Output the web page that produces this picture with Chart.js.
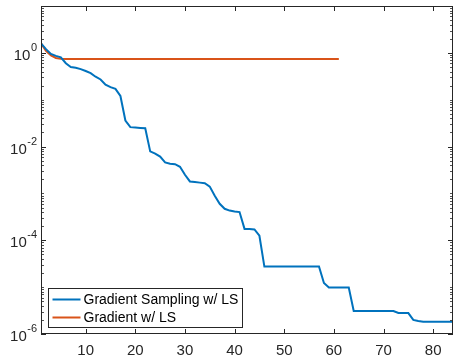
<!DOCTYPE html>
<html>
<head>
<meta charset="utf-8">
<script src="https://cdn.jsdelivr.net/npm/chart.js@4.4.1/dist/chart.umd.min.js"></script>
<style>
  html, body { margin: 0; padding: 0; background: #fff; }
  #wrap { width: 454px; height: 356px; }
</style>
</head>
<body>
<div id="wrap"><canvas id="chart"></canvas></div>
<script>
// data
const iterSampling = [];
for (let i = 1; i <= 84; i++) iterSampling.push(i);
const gradSampling = [
  1.6, 1.2, 0.95, 0.86, 0.8, 0.6, 0.5, 0.48, 0.45, 0.41,
  0.37, 0.31, 0.27, 0.21, 0.185, 0.17, 0.12, 0.036, 0.026, 0.0255,
  0.025, 0.0246, 0.0079, 0.0071, 0.0061, 0.0046, 0.0043, 0.0042, 0.0037, 0.0025,
  0.0018, 0.00175, 0.0017, 0.00165, 0.0014, 0.00089, 0.0006, 0.00047, 0.00043, 0.00041,
  0.0004, 0.000175, 0.000175, 0.00017, 0.000125, 2.75e-5, 2.75e-5, 2.75e-5, 2.75e-5, 2.75e-5,
  2.75e-5, 2.75e-5, 2.75e-5, 2.75e-5, 2.75e-5, 2.75e-5, 2.75e-5, 1.23e-5, 9.8e-6, 9.8e-6,
  9.8e-6, 9.8e-6, 9.8e-6, 3.1e-6, 3.1e-6, 3.1e-6, 3.1e-6, 3.1e-6, 3.1e-6, 3.1e-6,
  3.1e-6, 3.1e-6, 2.8e-6, 2.8e-6, 2.8e-6, 2.0e-6, 1.9e-6, 1.82e-6, 1.82e-6, 1.82e-6,
  1.82e-6, 1.82e-6, 1.82e-6, 1.82e-6
];
const iterGradient = [];
for (let i = 1; i <= 61; i++) iterGradient.push(i);
const gradPlain = [1.6, 1.1, 0.88, 0.78, 0.75];
while (gradPlain.length < 61) gradPlain.push(0.74);

const xTicks = [10, 20, 30, 40, 50, 60, 70, 80];
const yTickExps = [0, -2, -4, -6];
const seriesLabels = ['Gradient Sampling w/ LS', 'Gradient w/ LS'];
const seriesColors = ['#0072BD', '#D95319'];

const AX = '#262626';
const FONT = '"Liberation Sans", Arial, Helvetica, sans-serif';

// matlab style box, inward ticks, superscript labels, legend in lower left
const matlabAxes = {
  id: 'matlabAxes',
  afterDraw(chart) {
    const ctx = chart.ctx;
    const a = chart.chartArea;
    const xs = chart.scales.x, ys = chart.scales.y;
    ctx.save();
    ctx.strokeStyle = AX;
    ctx.lineWidth = 1;
    ctx.strokeRect(Math.round(a.left) + 0.5, Math.round(a.top) + 0.5,
      Math.round(a.right - a.left) - 1, Math.round(a.bottom - a.top) - 1);

    // x ticks
    ctx.beginPath();
    xTicks.forEach(t => {
      const px = Math.round(xs.getPixelForValue(t)) + 0.5;
      ctx.moveTo(px, a.bottom); ctx.lineTo(px, a.bottom - 5);
      ctx.moveTo(px, a.top); ctx.lineTo(px, a.top + 5);
    });
    // y major ticks
    yTickExps.forEach(e => {
      const py = Math.round(ys.getPixelForValue(Math.pow(10, e))) + 0.5;
      ctx.moveTo(a.left, py); ctx.lineTo(a.left + 5, py);
      ctx.moveTo(a.right, py); ctx.lineTo(a.right - 5, py);
    });
    ctx.stroke();
    // y minor ticks
    ctx.beginPath();
    ctx.lineWidth = 0.8;
    for (let e = -6; e < 1; e++) {
      for (let m = 1; m <= 9; m++) {
        if (m === 1 && e % 2 === 0) continue;
        const py = Math.round(ys.getPixelForValue(m * Math.pow(10, e))) + 0.5;
        ctx.moveTo(a.left, py); ctx.lineTo(a.left + 3, py);
        ctx.moveTo(a.right, py); ctx.lineTo(a.right - 3, py);
      }
    }
    ctx.stroke();

    // x labels
    ctx.fillStyle = AX;
    ctx.font = '15px ' + FONT;
    ctx.textAlign = 'center';
    ctx.textBaseline = 'top';
    xTicks.forEach(t => ctx.fillText(String(t), xs.getPixelForValue(t), a.bottom + 9));

    // y labels 10^e
    ctx.textBaseline = 'middle';
    yTickExps.forEach(e => {
      const py = ys.getPixelForValue(Math.pow(10, e));
      const exp = String(e).replace('-', '\u2212').replace('\u2212', '-');
      ctx.font = '11px ' + FONT;
      const ew = ctx.measureText(exp).width;
      const right = a.left - 4;
      ctx.textAlign = 'right';
      ctx.fillText(exp, right, py - 5);
      ctx.font = '15px ' + FONT;
      ctx.fillText('10', right - ew - 0.5, py + 3);
    });

    // legend
    const lx = 48.5, ly = 288.5, lw = 194, lh = 39;
    ctx.fillStyle = '#fff';
    ctx.fillRect(lx, ly, lw, lh);
    ctx.lineWidth = 1;
    ctx.strokeStyle = AX;
    ctx.strokeRect(lx, ly, lw, lh);
    ctx.font = '14px ' + FONT;
    ctx.textAlign = 'left';
    ctx.textBaseline = 'middle';
    chart.data.datasets.forEach((ds, i) => {
      const yy = ly + 11 + i * 18;
      ctx.strokeStyle = ds.borderColor;
      ctx.lineWidth = 2;
      ctx.beginPath();
      ctx.moveTo(lx + 4, yy); ctx.lineTo(lx + 32, yy);
      ctx.stroke();
      ctx.fillStyle = '#000';
      ctx.fillText(ds.label, lx + 35, yy + 1);
    });
    ctx.restore();
  }
};

const ctx = document.getElementById('chart').getContext('2d');
new Chart(ctx, {
  type: 'line',
  data: {
    datasets: [
      {
        label: seriesLabels[0],
        data: iterSampling.map((x, i) => ({ x: x, y: gradSampling[i] })),
        borderColor: seriesColors[0],
        borderWidth: 2,
        pointRadius: 0,
        tension: 0
      },
      {
        label: seriesLabels[1],
        data: iterGradient.map((x, i) => ({ x: x, y: gradPlain[i] })),
        borderColor: seriesColors[1],
        borderWidth: 2,
        pointRadius: 0,
        tension: 0
      }
    ]
  },
  options: {
    responsive: true,
    maintainAspectRatio: false,
    animation: false,
    layout: { padding: { top: 6, right: 1, left: 0, bottom: 0 } },
    plugins: { legend: { display: false }, tooltip: { enabled: false } },
    scales: {
      x: {
        type: 'linear', min: 1, max: 84,
        grid: { display: false }, border: { display: false },
        ticks: { display: false },
        afterFit: s => { s.height = 22; }
      },
      y: {
        type: 'logarithmic', min: 1e-6, max: 10,
        grid: { display: false }, border: { display: false },
        ticks: { display: false },
        afterFit: s => { s.width = 41; }
      }
    }
  },
  plugins: [matlabAxes]
});
</script>
</body>
</html>
